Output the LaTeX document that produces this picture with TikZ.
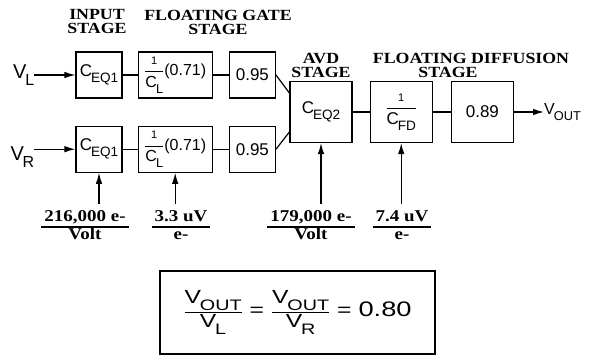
\documentclass[tikz,border=0pt]{standalone}
\usepackage{fontspec}
\setmainfont{Liberation Serif}
\newfontfamily\boxfont{Liberation Sans}
\newfontfamily\ratiofont[FakeStretch=1.3]{Liberation Sans}
\newfontfamily\headfont[FakeStretch=1.15]{Liberation Serif}
\usepackage{graphicx}
\usetikzlibrary{positioning,arrows.meta,calc}
\setlength{\arrayrulewidth}{1.2pt}
\setlength{\tabcolsep}{3pt}
\newcommand{\dn}[1]{\kern-0.06em\raisebox{-0.35em}{\scalebox{0.8}{#1}}}
\newcommand{\inv}[1]{$\displaystyle\frac{\mbox{\fontsize{11}{11}\selectfont 1}}{\mbox{#1}}$}

\begin{document}
\begin{tikzpicture}[
    x=1pt, y=-1pt,
    node distance=16pt,
    block/.style={rectangle, draw, line width=1.2pt, inner sep=1pt, minimum width=46pt, minimum height=46pt, font=\boxfont\fontsize{17}{20}\selectfont},
    wideblock/.style={block, minimum width=74pt, font=\boxfont\fontsize{16}{18}\selectfont},
    bigblock/.style={block, minimum width=62pt, minimum height=61pt},
    signal/.style={inner sep=0pt, font=\boxfont\fontsize{20}{22}\selectfont},
    head/.style={align=center, inner sep=0pt, font=\headfont\bfseries\fontsize{15.5}{14}\selectfont},
    gain/.style={inner sep=0pt, font=\headfont\bfseries\fontsize{16.5}{17}\selectfont},
    arrow/.style={-{Latex[length=11pt,width=6.5pt]}, line width=1.2pt},
    wire/.style={line width=1.2pt}
]
\useasboundingbox (0,0) rectangle (599,355);

% ===== HEADINGS =====
\node[head] (inhead) at (97,22) {INPUT\\STAGE};
\node[head] (fghead) at (218,22) {FLOATING GATE\\STAGE};
\node[head] (avdhead) at (321,65) {AVD\\STAGE};
\node[head] (fdhead) at (471,65) {FLOATING DIFFUSION\\STAGE\hspace*{46pt}};

% ===== LEFT CHANNEL =====
\node[block] (ceqL) at (99,75) {C\dn{EQ1}};
\node[wideblock, right=15pt of ceqL] (clL) {\inv{C\dn{L}}(0.71)};
\node[block, right=of clL] (gL) {0.95};

% ===== RIGHT CHANNEL =====
\node[block, below=27pt of ceqL] (ceqR) {C\dn{EQ1}};
\node[wideblock, right=15pt of ceqR] (clR) {\inv{C\dn{L}}(0.71)};
\node[block, right=of clR] (gR) {0.95};

% ===== AVD + FLOATING DIFFUSION =====
\node[bigblock] (avd) at (321,112) {C\dn{EQ2}};
\node[bigblock, right=17pt of avd] (cfd) {\inv{C\dn{FD}}};
\node[bigblock, right=18pt of cfd] (gout) {0.89};

% ===== SIGNALS =====
\node[signal, left=41pt of ceqL] (vl) {V\dn{L}};
\node[signal, left=41pt of ceqR, yshift=-8pt] (vr) {V\dn{R}};
\node[signal, font=\boxfont\fontsize{16}{18}\selectfont, right=30pt of gout] (vout) {V\dn{OUT}};

% ===== CONVERSION GAINS =====
\node[gain] (q1) at (85,227) {\begin{tabular}{c}216,000 e-\\\hline Volt\end{tabular}};
\node[gain] (q2) at (181,227) {\begin{tabular}{c}3.3 uV\\\hline e-\end{tabular}};
\node[gain] (q3) at (311,227) {\begin{tabular}{c}179,000 e-\\\hline Volt\end{tabular}};
\node[gain] (q4) at (402,227) {\begin{tabular}{c}7.4 uV\\\hline e-\end{tabular}};

% ===== RATIO =====
\node[draw, line width=1.6pt, minimum width=275pt, minimum height=83pt, font=\ratiofont\fontsize{19}{22}\selectfont] (ratio) at (297.5,312.5)
    {$\displaystyle\frac{\mbox{V\dn{OUT}}}{\mbox{V\dn{L}}}\mbox{ = }\frac{\mbox{V\dn{OUT}}}{\mbox{V\dn{R}}}\mbox{ = \fontsize{21}{22}\selectfont 0.80}$};

% ===== CONNECTIONS =====
\draw[arrow] (vl) -- (ceqL);
\draw[arrow] (vr.east |- ceqR.west) -- (ceqR.west);
\draw[wire] (ceqL) -- (clL);
\draw[wire] (clL) -- (gL);
\draw[wire] (ceqR) -- (clR);
\draw[wire] (clR) -- (gR);
\draw[wire] (gL.east) -- ([yshift=19pt]avd.west);
\draw[wire] (gR.east) -- ([yshift=-20pt]avd.west);
\draw[wire] (avd) -- (cfd);
\draw[wire] (cfd) -- (gout);
\draw[arrow] (gout) -- (vout);

\draw[arrow] ([yshift=5pt]q1.north -| ceqR.south) -- (ceqR.south);
\draw[arrow] ([yshift=5pt]q2.north -| clR.south) -- (clR.south);
\draw[arrow] ([yshift=5pt]q3.north -| avd.south) -- (avd.south);
\draw[arrow] ([yshift=5pt]q4.north -| cfd.south) -- (cfd.south);

\end{tikzpicture}
\end{document}
